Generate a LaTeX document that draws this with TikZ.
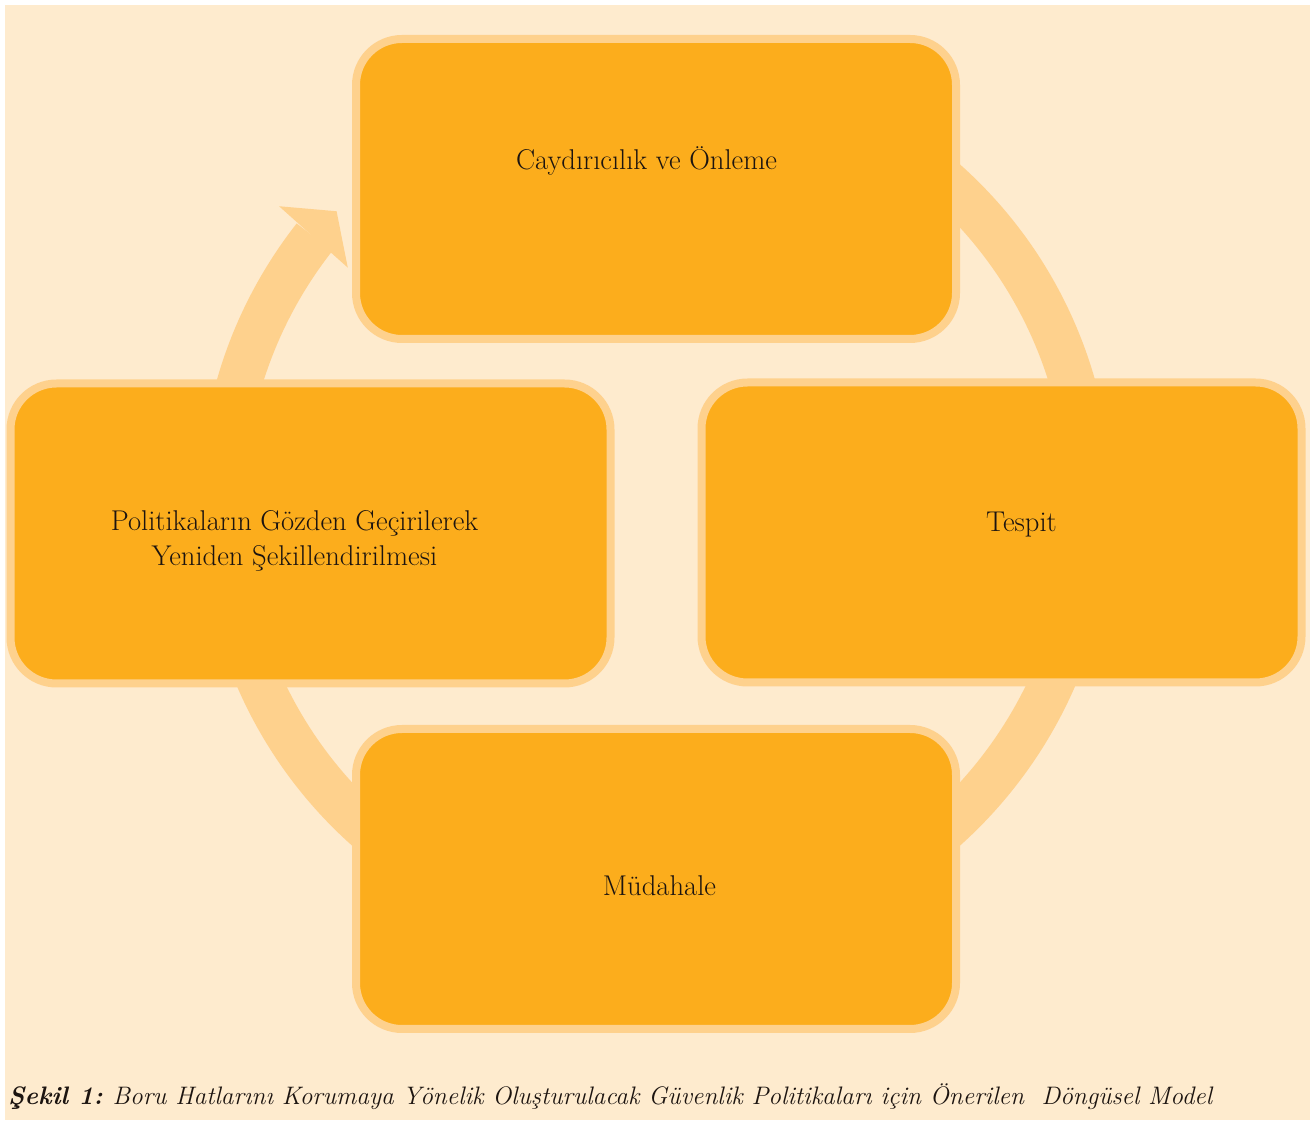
\documentclass[tikz,border=0pt]{standalone}
\usepackage{tikz}
\usetikzlibrary{positioning, calc}
\definecolor{pagebg}{RGB}{254,235,206}
\definecolor{boxfill}{RGB}{252,173,28}
\definecolor{boxline}{RGB}{254,209,141}
\definecolor{inkcol}{RGB}{28,20,16}
\tikzset{
  stage/.style={rectangle, rounded corners=46pt, minimum width=600pt, minimum height=300pt, draw=boxline, line width=8pt, fill=boxfill},
  stagetext/.style={text=inkcol, font=\fontsize{28.6}{35.7}\selectfont, align=center, inner sep=0pt},
  ring/.style={draw=boxline, line width=45pt}
}

\begin{document}
\begin{tikzpicture}[x=1pt, y=1pt]

\useasboundingbox (0,0) rectangle (1310,1120);
\fill[white] (0,0) rectangle (1310,1120);
\fill[pagebg] (5,0) rectangle (1310,1115);

% cycle ring behind the boxes
\coordinate (ring) at (656,615);
\draw [ring] ($(ring)+(141.9:434)$) arc[start angle=141.9, end angle=460, radius=434];
\fill [boxline] ($(ring)+(141.6:481)$) -- ($(ring)+(137.4:434)$) -- ($(ring)+(142.4:389)$) -- cycle;

\node (deter) [stage] at (656,931) {};
\node (detect) [stage] at (1001.5,587.5) {};
\node (respond) [stage] at (656,241) {};
\node (review) [stage] at (310.5,586.5) {};

\node [stagetext, anchor=base] at ($(deter.center)+(-9.5,19.7)$) {Caydırıcılık ve Önleme};
\node [stagetext, anchor=base] at ($(detect.center)+(20,0.5)$) {Tespit};
\node [stagetext, anchor=base] at ($(respond.center)+(3.5,-17)$) {Müdahale};
\node [stagetext] at ($(review.center)+(-16,-7.5)$) {Politikaların Gözden Geçirilerek\\Yeniden Şekillendirilmesi};

\node (caption) [anchor=base west, text=inkcol, font=\fontsize{25.3}{30}\selectfont, inner sep=0pt] at (8,16)
  {\textbf{\textit{Şekil 1:}} \textit{Boru Hatlarını Korumaya Yönelik Oluşturulacak Güvenlik Politikaları için Önerilen~ Döngüsel Model}};

\end{tikzpicture}
\end{document}
